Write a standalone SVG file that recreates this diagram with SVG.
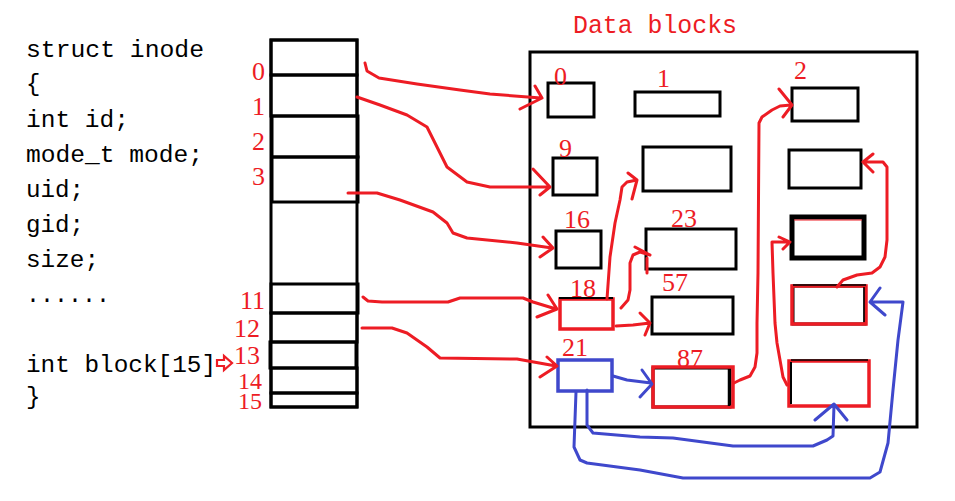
<svg xmlns="http://www.w3.org/2000/svg" width="955" height="501" viewBox="0 0 955 501">
<style>
.code{font-family:"Liberation Mono","DejaVu Sans Mono",monospace;font-size:24px;fill:#000}
.idx{font-family:"Liberation Serif","DejaVu Serif",serif;font-size:26px;fill:#ed1c24}
.sm{font-size:24px}
.title{font-family:"Liberation Mono","DejaVu Sans Mono",monospace;font-size:25px;fill:#ed1c24}
.cell{fill:none;stroke:#000;stroke-width:3}
.blk{fill:none;stroke:#000;stroke-width:3}
.rblk{fill:none;stroke:#ed1c24;stroke-width:3.5}
.bblk{fill:none;stroke:#3f48cc;stroke-width:3.5}
.r{fill:none;stroke:#ed1c24;stroke-width:3;stroke-linejoin:round;stroke-linecap:round}
.b{fill:none;stroke:#3f48cc;stroke-width:3;stroke-linejoin:round;stroke-linecap:round}
</style>
<rect width="955" height="501" fill="#fff"/>
<g id="code">
<text class="code" x="26" y="57" textLength="178" lengthAdjust="spacingAndGlyphs">struct inode</text>
<text class="code" x="26" y="91">{</text>
<text class="code" x="26" y="127" textLength="103" lengthAdjust="spacingAndGlyphs">int id;</text>
<text class="code" x="26" y="162" textLength="177" lengthAdjust="spacingAndGlyphs">mode_t mode;</text>
<text class="code" x="26" y="197" textLength="58" lengthAdjust="spacingAndGlyphs">uid;</text>
<text class="code" x="26" y="232" textLength="58" lengthAdjust="spacingAndGlyphs">gid;</text>
<text class="code" x="26" y="267" textLength="73" lengthAdjust="spacingAndGlyphs">size;</text>
<text class="code" x="26" y="302" textLength="84" lengthAdjust="spacingAndGlyphs">......</text>
<text class="code" x="26" y="372" textLength="190" lengthAdjust="spacingAndGlyphs">int block[15]</text>
<text class="code" x="26" y="404">}</text>
<path d="M217,360 h7 v-4 l8,7 l-8,7 v-4 h-7 z" fill="#fff" stroke="#ed1c24" stroke-width="2.2" stroke-linejoin="miter"/>
</g>
<g id="inode-array">
<rect class="cell" x="271" y="40" width="86" height="367"/>
<rect class="cell" x="271" y="40" width="86" height="35"/>
<rect class="cell" x="271" y="75" width="86" height="41"/>
<rect class="cell" x="272" y="116" width="86" height="41"/>
<rect class="cell" x="272" y="157" width="86" height="45"/>
<rect class="cell" x="271" y="284" width="87" height="29"/>
<rect class="cell" x="271" y="313" width="86" height="29"/>
<rect class="cell" x="270" y="342" width="86" height="26"/>
<rect class="cell" x="271" y="368" width="86" height="25"/>
<rect class="cell" x="271" y="393" width="86" height="14"/>
<text class="idx" x="252" y="80">0</text>
<text class="idx" x="252" y="115">1</text>
<text class="idx" x="252" y="150">2</text>
<text class="idx" x="252" y="185">3</text>
<text class="idx" x="240" y="309">11</text>
<text class="idx" x="234" y="337">12</text>
<text class="idx" x="234" y="364">13</text>
<text class="idx sm" x="238" y="389">14</text>
<text class="idx sm" x="238" y="409">15</text>
</g>
<g id="data-blocks">
<text class="title" x="573" y="33" textLength="164" lengthAdjust="spacingAndGlyphs">Data blocks</text>
<rect class="blk" x="530" y="52" width="387" height="375"/>
</g>
<g id="block-0"><rect class="blk" x="548" y="83" width="46" height="34"/><text class="idx" x="554" y="85">0</text></g>
<g id="block-1"><rect class="blk" x="635" y="92" width="85" height="24"/><text class="idx" x="657" y="87">1</text></g>
<g id="block-2"><rect class="blk" x="792" y="88" width="66" height="33"/><text class="idx" x="794" y="79">2</text></g>
<g id="block-9"><rect class="blk" x="553" y="158" width="44" height="37"/><text class="idx" x="559" y="157">9</text></g>
<g id="block-r2c2"><rect class="blk" x="643" y="147" width="88" height="44"/></g>
<g id="block-r2c3"><rect class="blk" x="789" y="150" width="72" height="38"/></g>
<g id="block-16"><rect class="blk" x="556" y="231" width="45" height="37"/><text class="idx" x="564" y="228">16</text></g>
<g id="block-23"><rect class="blk" x="646" y="229" width="90" height="40"/><text class="idx" x="671" y="227">23</text></g>
<g id="block-r3c3"><rect x="792" y="217" width="72" height="41" fill="none" stroke="#000" stroke-width="5"/><line x1="794" y1="220" x2="862" y2="220" stroke="#ed1c24" stroke-width="1"/></g>
<g id="block-18"><rect class="rblk" x="560" y="299" width="53" height="30"/><line x1="559" y1="298" x2="613" y2="298" stroke="#000" stroke-width="2"/><text class="idx" x="570" y="297">18</text></g>
<g id="block-57"><rect class="blk" x="652" y="297" width="81" height="37"/><text class="idx" x="662" y="291">57</text></g>
<g id="block-21"><rect class="bblk" x="558" y="360" width="54" height="31"/><text class="idx" x="562" y="356">21</text></g>
<g id="block-87"><rect class="blk" x="653" y="368" width="77" height="39"/><rect class="rblk" x="653" y="367" width="80" height="40"/><line x1="729" y1="369" x2="729" y2="406" stroke="#000" stroke-width="2.5"/><text class="idx" x="677" y="367">87</text></g>
<g id="block-r4c3"><rect class="blk" x="793" y="286" width="72" height="38"/><rect class="rblk" x="792" y="286" width="74" height="38"/><line x1="793" y1="285" x2="866" y2="285" stroke="#000" stroke-width="1.5"/><line x1="864" y1="287" x2="864" y2="322" stroke="#000" stroke-width="1.5"/></g>
<g id="block-r5c3"><rect class="rblk" x="789" y="361" width="80" height="45"/><line x1="791" y1="360" x2="868" y2="360" stroke="#000" stroke-width="1.5"/><line x1="791" y1="362" x2="791" y2="404" stroke="#000" stroke-width="2"/></g>
<g id="connectors">
<path class="r" d="M365,63 L367,71 L379,78 L417,84 L460,90 L490,94 L541,98 M535,86 L542,98 L520,109"/>
<path class="r" d="M357,97 L380,105 L407,115 L427,127 L437,147 L447,167 L467,182 L490,187 L549,187 M533,169 L550,187 L540,195"/>
<path class="r" d="M348,193 L377,193 L400,200 L433,212 L447,223 L453,233 L467,238 L517,243 L552,248 M543,237 L553,248 L540,257"/>
<path class="r" d="M363,297 L368,301 L382,302 L448,302 L460,298 L523,298 L533,302 L556,309 M548,295 L557,309 L537,317"/>
<path class="r" d="M362,328 L392,328 L407,333 L427,347 L440,358 L517,359 L556,366 M547,357 L557,366 L540,377"/>
<path class="r" d="M607,299 L610,257 L615,223 L620,200 L622,187 L627,182 L637,180 M628,173 L637,180 L632,199"/>
<path class="r" d="M621,308 L628,300 L630,290 L630,263 L633,255 L640,252 L650,255 M635,247 L650,255 M647,273 L647,258"/>
<path class="r" d="M616,326 L633,325 L650,323 M640,313 L650,323 L645,335"/>
<path class="r" d="M734,383 L740,380 L750,376 L755,367 L757,353 L757,323 L758,273 L759,123 L762,117 L772,110 L780,106 L791,105 M779,89 L792,105 L783,117"/>
<path class="r" d="M787,385 L783,377 L777,343 L775,323 L773,273 L772,242 L788,242 M779,237 L790,242 L783,249"/>
<path class="r" d="M837,287 L843,280 L857,275 L872,273 L880,267 L885,257 L887,240 L887,167 L883,162 L864,162 M873,154 L863,162 L873,172"/>
<path class="b" d="M613,376 L627,380 L651,383 M642,370 L652,384 L640,397"/>
<path class="b" d="M587,390 L587,425 L593,433 L640,437 L673,438 L733,446 L813,446 L827,440 L833,436 L834,405 M815,420 L834,404 L847,420"/>
<path class="b" d="M576,392 L574,447 L580,460 L587,463 L640,470 L683,478 L870,478 L880,472 L888,443 L893,390 L898,340 L903,302 L871,302 M880,288 L870,302 L885,315"/>
</g>
</svg>
